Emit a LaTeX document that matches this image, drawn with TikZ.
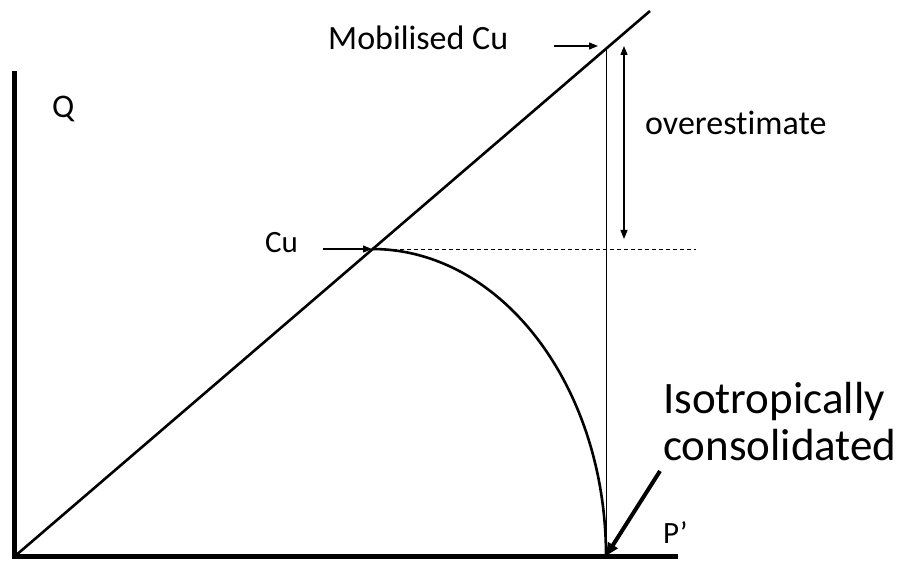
\documentclass[tikz,border=0pt]{standalone}
\usepackage{fontspec}
\setmainfont[Ligatures=NoCommon]{Carlito}
\usetikzlibrary{arrows.meta}

\begin{document}
\begin{tikzpicture}[x=1pt,y=1pt,
  axis/.style={line width=5.5pt},
  txt/.style={inner sep=0pt,anchor=base west,font=\fontsize{31}{36}\selectfont},
  pointer/.style={line width=1.3pt,-{Triangle[length=9pt,width=7pt]}}
]
  \useasboundingbox (0,0) rectangle (909,560);
  % key points of the plot
  \coordinate (origin) at (14.5,3.5);
  \coordinate (qtop) at (14.5,489);
  \coordinate (pend) at (678,3.5);
  \coordinate (cslend) at (650,549);
  \coordinate (cu) at (372,311);
  \coordinate (mob) at (606,510);
  \coordinate (pzero) at (606,4);
  \coordinate (dashend) at (696,311);
  \coordinate (overtop) at (624,514);
  \coordinate (overbot) at (624,321);
  \coordinate (mobtail) at (554,514);
  \coordinate (mobhead) at (598,514);
  \coordinate (cutail) at (323,311);
  \coordinate (isotail) at (660,89);

  % labels
  \node[txt,font=\fontsize{33}{38}\selectfont] (qlabel) at (52,442) {Q};
  \node[txt] (plabel) at (663,17) {P’};
  \node[txt] (culabel) at (265,307) {Cu};
  \node[txt,font=\fontsize{34}{38}\selectfont] (moblabel) at (328,510) {Mobilised Cu};
  \node[txt,font=\fontsize{34}{38}\selectfont] (overlabel) at (645,425) {overestimate};
  \node[txt,font=\fontsize{45}{48}\selectfont] (isolabel) at (663,147) {Isotropically};
  \node[txt,font=\fontsize{45}{48}\selectfont] (conslabel) at (663,100) {consolidated};

  % axes and lines
  \draw[axis] (qtop) -- (origin) -- (pend);
  \draw[line width=2.6pt] (origin) -- (cslend);
  \draw[line width=2.6pt] (cu) arc[start angle=90,end angle=0,x radius=234,y radius=307];
  \draw[line width=0.8pt,dashed,dash pattern=on 4pt off 3pt] (cu) -- (dashend);
  \draw[line width=0.9pt] (mob) -- (pzero);

  % arrows
  \draw[pointer] (mobtail) -- (mobhead);
  \draw[pointer] (cutail) -- (cu);
  \draw[line width=1.3pt,{Triangle[length=9pt,width=7pt]}-{Triangle[length=9pt,width=7pt]}] (overtop) -- (overbot);
  \draw[line width=4pt,-{Triangle[length=13pt,width=11pt]}] (isotail) -- (pzero);
\end{tikzpicture}
\end{document}
